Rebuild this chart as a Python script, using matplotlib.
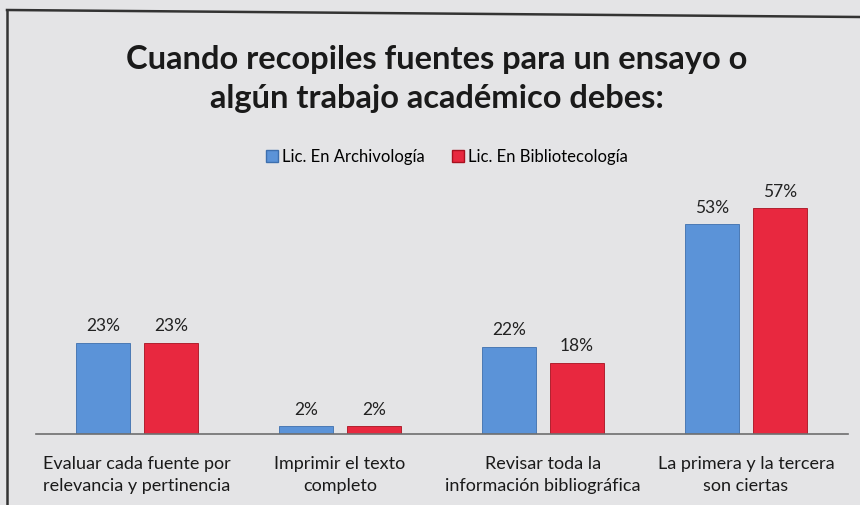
import matplotlib.pyplot as plt
from matplotlib.lines import Line2D
import numpy as np

categories = ["Evaluar cada fuente por\nrelevancia y pertinencia",
              "Imprimir el texto\ncompleto",
              "Revisar toda la\ninformación bibliográfica",
              "La primera y la tercera\nson ciertas"]
series_names = ["Lic. En Archivología", "Lic. En Bibliotecología"]
archivologia = [23, 2, 22, 53]
bibliotecologia = [23, 2, 18, 57]
title = "Cuando recopiles fuentes para un ensayo o\nalgún trabajo académico debes:"

plt.rcParams['font.family'] = ['Lato', 'DejaVu Sans']
W, H = 860, 505
fig = plt.figure(figsize=(W/100, H/100), dpi=100)
bg = '#e4e4e6'
fig.patch.set_facecolor(bg)

# axes: left 35.5px, right 847.5px, bottom 434px, top 180px
left, right, bottom, top = 35.5, 847.5, 434, 180
ax = fig.add_axes([left/W, (H-bottom)/H, (right-left)/W, (bottom-top)/H])
ax.set_facecolor(bg)
x = np.arange(len(categories))
bw = 0.266
off = 0.168
blue = '#5b93d8'
red = '#e8283f'
b1 = ax.bar(x-off, archivologia, bw, color=blue, edgecolor='#3d6fae', linewidth=0.6)
b2 = ax.bar(x+off, bibliotecologia, bw, color=red, edgecolor='#a8101f', linewidth=0.6)
ax.set_xlim(-0.5, len(categories)-0.5)
ymax = 57 * (bottom-top) / (bottom-208)
ax.set_ylim(0, ymax)
for bars, vals in ((b1, archivologia), (b2, bibliotecologia)):
    for r, v in zip(bars, vals):
        ax.annotate(f"{v}%", (r.get_x()+r.get_width()/2, v), xytext=(0, 6),
                    textcoords='offset points', ha='center', va='bottom',
                    fontsize=12.5, color='#222222')
for s in ['top', 'right', 'left']:
    ax.spines[s].set_visible(False)
ax.spines['bottom'].set_color('#6e6e6e')
ax.spines['bottom'].set_linewidth(1.2)
ax.set_yticks([])
ax.set_xticks(x)
ax.set_xticklabels(categories, fontsize=13, color='#1a1a1a', linespacing=1.45)
ax.tick_params(axis='x', length=0, pad=16)

fig.text(437/W, 1-79/H, title, ha='center', va='center', fontsize=23.5,
         fontweight='bold', color='#1a1a1a', linespacing=1.38)

handles = [Line2D([], [], marker='s', linestyle='', markersize=8,
                  markerfacecolor=blue, markeredgecolor='#3d6fae'),
           Line2D([], [], marker='s', linestyle='', markersize=8,
                  markerfacecolor=red, markeredgecolor='#a8101f')]
fig.legend(handles, series_names, loc='center', bbox_to_anchor=(447/W, 1-157/H),
           ncol=2, frameon=False, fontsize=12, handletextpad=0.2,
           columnspacing=1.6, handlelength=0.8)

# frame lines
fig.add_artist(Line2D([7/W, 7/W], [0, 1-10/H], color='#333333', lw=1.8,
                      transform=fig.transFigure))
fig.add_artist(Line2D([7/W, 1], [1-10/H, 1-17/H], color='#333333', lw=1.8,
                      transform=fig.transFigure))

fig.savefig('out.png', dpi=100, facecolor=bg)
